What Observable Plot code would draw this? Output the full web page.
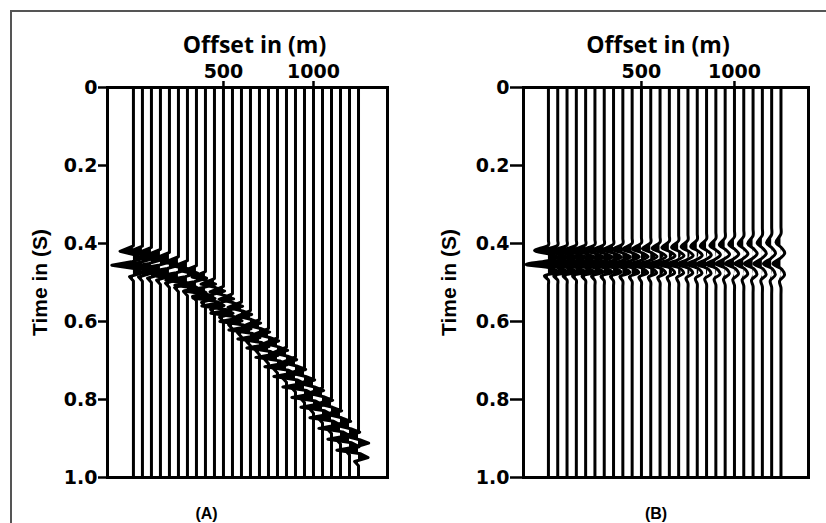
<!DOCTYPE html>
<html>
<head>
<meta charset="utf-8">
<script src="https://cdn.jsdelivr.net/npm/d3@7"></script>
<script src="https://cdn.jsdelivr.net/npm/@observablehq/plot@0.6"></script>
<style>
  html, body { margin: 0; padding: 0; background: #fff; }
  #wrap { position: relative; width: 826px; height: 523px; overflow: hidden; }
  #border { position: absolute; left: 10px; top: 10px; width: 830px; height: 530px;
            border-left: 2px solid #555; border-top: 2px solid #555; }
  .panel { position: absolute; top: 0; }
</style>
</head>
<body>
<div id="wrap"><div id="border"></div><div id="pa" class="panel" style="left:0"></div><div id="pb" class="panel" style="left:413px"></div></div>
<script>
// Trace offsets (m)
const offsets = [0,50,100,150,200,250,300,350,400,450,500,550,600,650,700,750,800,850,900,950,1000,1050,1100,1150,1200,1250];
// Panel A: reflection time (s) of the main trough on each trace (before NMO)
const eventTimeA = [0.456,0.457,0.460,0.465,0.473,0.484,0.494,0.507,0.522,0.540,0.560,0.579,0.600,0.622,0.645,0.668,0.692,0.716,0.741,0.768,0.795,0.820,0.847,0.874,0.902,0.930];
// Panel B: reflection time (s) after NMO correction
const eventTimeB = [0.454,0.454,0.454,0.454,0.454,0.454,0.454,0.454,0.454,0.454,0.454,0.454,0.454,0.453,0.453,0.453,0.453,0.453,0.453,0.452,0.452,0.452,0.452,0.452,0.452,0.452];
// Panel B: NMO stretch of the wavelet and relative amplitude per trace
const stretchB = [1.0,1.0,1.0,1.01,1.02,1.03,1.04,1.05,1.07,1.09,1.11,1.13,1.15,1.18,1.2,1.23,1.26,1.29,1.32,1.35,1.38,1.41,1.44,1.47,1.5,1.53];
const ampB = [1,1,0.98,0.95,0.9,0.85,0.8,0.76,0.72,0.68,0.64,0.6,0.57,0.54,0.51,0.49,0.47,0.45,0.43,0.42,0.41,0.4,0.39,0.38,0.37,0.36];
// Panel B: how much of the positive lobe area is shaded per trace (heavy near, outline far)
const shadeB = [1,1,1,1,1,1,1,1,1,1,0.9,0.8,0.7,0.6,0.5,0.4,0.3,0.2,0.1,0,0,0,0,0,0,0];
// Wavelet samples: time relative to main trough (s) and normalised amplitude
const waveletDt  = [-0.075,-0.062,-0.05,-0.036,-0.027,-0.018,-0.009,0,0.009,0.019,0.029,0.04,0.052,0.065];
const waveletAmp = [0,0,0,-0.62,0.05,0.47,-0.1,-1.0,0.1,0.44,-0.18,0,0,0];
const waveletScale = 120; // peak deflection in offset metres
// Axis ticks
const timeTicks = [0,0.2,0.4,0.6,0.8,1.0];
const offsetTicks = [500,1000];

function traces(times, stretch, amps, shade) {
  const rows = [];
  offsets.forEach((o, i) => {
    const s = shade ? shade[i] : 1;
    rows.push({trace: i, t: 0, x: o, base: o, fillx: o});
    waveletDt.forEach((dt, k) => {
      const x = o + waveletScale * waveletAmp[k] * (amps ? amps[i] : 1);
      const fillx = x < o ? x : o + (x - o) * s;
      rows.push({trace: i, t: times[i] + dt * (stretch ? stretch[i] : 1), x, base: o, fillx});
    });
    rows.push({trace: i, t: 1, x: o, base: o, fillx: o});
  });
  return rows;
}

function panel(opts) {
  return Plot.plot({
    width: 413, height: 523,
    marginTop: 87, marginBottom: 46, marginLeft: opts.ml, marginRight: opts.mr,
    style: {fontFamily: "DejaVu Sans", fontWeight: "bold", fontSize: "19px", color: "black", background: "transparent"},
    x: {domain: opts.xdom},
    y: {domain: [0, 1], reverse: true},
    marks: [
      Plot.areaX(opts.data, {x1: "base", x2: "fillx", y: "t", z: "trace", fill: "black", curve: opts.curve}),
      Plot.line(opts.data, {x: "x", y: "t", z: "trace", stroke: "black", strokeWidth: 3, curve: opts.curve}),
      Plot.frame({stroke: "black", strokeWidth: 3}),
      Plot.axisX({anchor: "top", ticks: offsetTicks, tickSize: 7, tickPadding: 3, tickFormat: d => String(d), label: null, strokeWidth: 2.5}),
      Plot.axisY({anchor: "left", ticks: timeTicks, tickSize: opts.ts, tickPadding: 1, tickFormat: d => d === 0 ? "0" : d.toFixed(1), label: null, strokeWidth: 2.5}),
      Plot.text(["Offset in (m)"], {frameAnchor: "top", textAnchor: "middle", lineAnchor: "middle", dy: -42, dx: opts.odx, fontFamily: "Open Sans", fontWeight: "bold", fontSize: 23}),
      Plot.text(["Time in (S)"], {frameAnchor: "left", textAnchor: "middle", lineAnchor: "middle", dx: opts.tdx, rotate: -90, fontFamily: "Liberation Sans", fontWeight: "bold", fontSize: 21}),
      Plot.text([opts.tag], {frameAnchor: "bottom", textAnchor: "middle", lineAnchor: "middle", dy: 36, dx: opts.adx, fontFamily: "Liberation Sans", fontWeight: "bold", fontSize: 16})
    ]
  });
}

document.getElementById("pa").append(panel({
  ml: 107, mr: 26, xdom: [-144, 1411], ts: 9, odx: 7, tdx: -67, adx: -41, tag: "(A)", curve: "linear",
  data: traces(eventTimeA, null, null, null)
}));
document.getElementById("pb").append(panel({
  ml: 110, mr: 18, xdom: [-134, 1398], ts: 13, odx: -8, tdx: -74, adx: -10, tag: "(B)", curve: "catmull-rom",
  data: traces(eventTimeB, stretchB, ampB, shadeB)
}));
</script>
</body>
</html>
